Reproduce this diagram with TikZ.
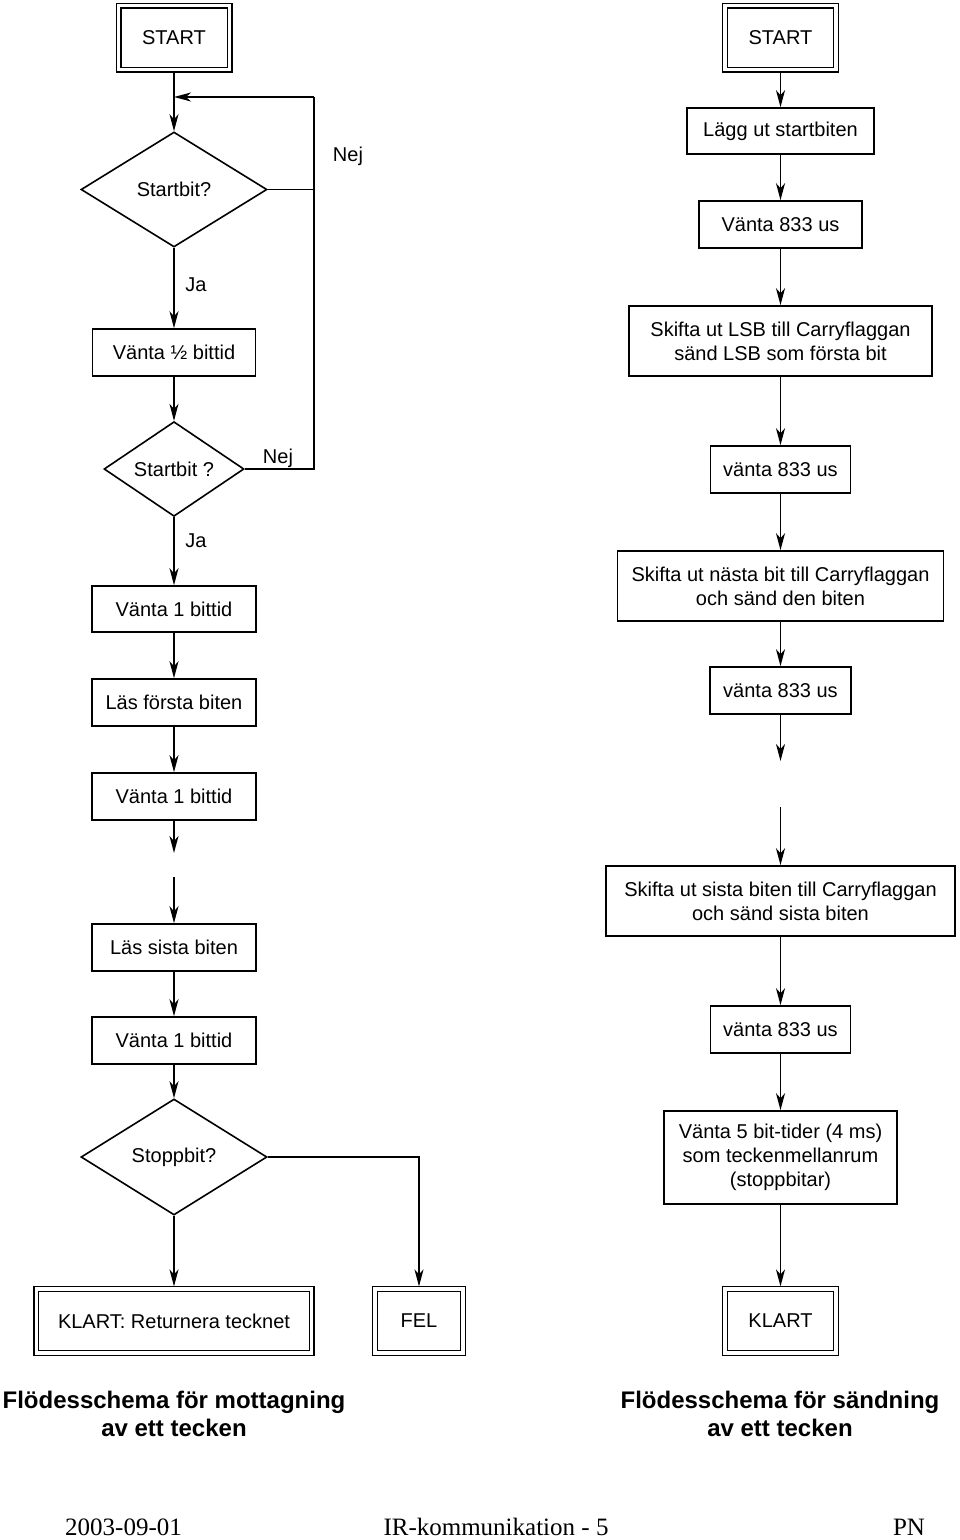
\documentclass[tikz,border=0pt]{standalone}
\usepackage{fontspec}
\setmainfont{Liberation Sans}
\newfontfamily\footserif{Liberation Serif}
\usetikzlibrary{arrows.meta,shapes.geometric}
\begin{document}
\begin{tikzpicture}[x=1pt,y=-1pt,
  every node/.style={font=\fontsize{20}{24}\selectfont},
  flowline/.style={line width=1.6pt},
  arr/.style={flowline,-{Stealth[length=17pt,width=9pt,inset=5pt]}},
  box/.style={draw,line width=1.6pt,inner sep=0pt,align=center,anchor=center},
  dbox/.style={draw,line width=1.4pt,double,double distance=3.2pt,inner sep=0pt,outer sep=2.6pt,anchor=center},
  dia/.style={draw,diamond,line width=1.6pt,inner sep=0pt,anchor=center},
  lbl/.style={inner sep=0pt,anchor=center},
  title/.style={font=\fontsize{24}{28}\selectfont\bfseries,align=center,inner sep=0pt},
  foot/.style={font=\fontsize{25}{28}\selectfont\footserif,inner sep=0pt,anchor=base}
]
\useasboundingbox (0,0) rectangle (960,1540);

% ---------- left column ----------
\node[dbox,minimum width=111pt,minimum height=64pt] (ls) at (174,37.5) {START};
\node[dia,minimum width=186pt,minimum height=115pt] (d1) at (174,189.5) {Startbit?};
\node[box,minimum width=163pt,minimum height=47pt] (l1) at (174,352.5) {Vänta ½ bittid};
\node[dia,minimum width=140pt,minimum height=70pt] (d2) at (174,469) {Startbit ?};
\node[box,minimum width=164pt,minimum height=46pt] (l2) at (174,609) {Vänta 1 bittid};
\node[box,minimum width=164pt,minimum height=47pt] (l3) at (174,702.5) {Läs första biten};
\node[box,minimum width=164pt,minimum height=47pt] (l4) at (174,796.5) {Vänta 1 bittid};
\node[box,minimum width=164pt,minimum height=47pt] (l5) at (174,947.5) {Läs sista biten};
\node[box,minimum width=164pt,minimum height=47pt] (l6) at (174,1040.5) {Vänta 1 bittid};
\node[dia,minimum width=186pt,minimum height=116pt] (d3) at (174,1157) {Stoppbit?};
\node[dbox,minimum width=275.5pt,minimum height=64pt] (lk) at (174,1321) {KLART: Returnera tecknet};
\node[dbox,minimum width=88pt,minimum height=64pt] (fel) at (419,1321) {FEL};

\coordinate (loopin) at (174,97);
\coordinate (looptop) at (314,97);
\coordinate (loopbot) at (314,469);
\coordinate (d1r) at (314,189.5);
\coordinate (fa) at (174,853);
\coordinate (fb) at (174,877);
\coordinate (felc) at (419,1157);

\draw[arr] (ls.south) -- (d1.north);
\draw[arr] (looptop) -- (loopin);
\draw[flowline] (d2.east) -- (loopbot) -- (looptop);
\draw[flowline] (d1.east) -- (d1r);
\draw[arr] (d1.south) -- (l1.north);
\draw[arr] (l1.south) -- (d2.north);
\draw[arr] (d2.south) -- (l2.north);
\draw[arr] (l2.south) -- (l3.north);
\draw[arr] (l3.south) -- (l4.north);
\draw[arr] (l4.south) -- (fa);
\draw[arr] (fb) -- (l5.north);
\draw[arr] (l5.south) -- (l6.north);
\draw[arr] (l6.south) -- (d3.north);
\draw[arr] (d3.south) -- (lk.north);
\draw[arr] (d3.east) -- (felc) -- (fel.north);

\node[lbl] (nej1) at (348,156) {Nej};
\node[lbl] (ja1) at (196,285) {Ja};
\node[lbl] (nej2) at (278,458) {Nej};
\node[lbl] (ja2) at (196,541) {Ja};

% ---------- right column ----------
\node[dbox,minimum width=111pt,minimum height=64pt] (rs) at (780.5,37.5) {START};
\node[box,minimum width=187pt,minimum height=46pt] (r1) at (780.5,131) {Lägg ut startbiten};
\node[box,minimum width=163pt,minimum height=47pt] (r2) at (780.5,224.5) {Vänta 833 us};
\node[box,minimum width=303pt,minimum height=70pt] (r3) at (780.5,341) {Skifta ut LSB till Carryflaggan\\sänd LSB som första bit};
\node[box,minimum width=140pt,minimum height=47pt] (r4) at (780.5,469.5) {vänta 833 us};
\node[box,minimum width=326pt,minimum height=70pt] (r5) at (780.5,586) {Skifta ut nästa bit till Carryflaggan\\och sänd den biten};
\node[box,minimum width=141pt,minimum height=47pt] (r6) at (780.5,690.5) {vänta 833 us};
\node[box,minimum width=349pt,minimum height=70pt] (r7) at (780.5,901) {Skifta ut sista biten till Carryflaggan\\och sänd sista biten};
\node[box,minimum width=140pt,minimum height=47pt] (r8) at (780.5,1029.5) {vänta 833 us};
\node[box,minimum width=233pt,minimum height=93pt] (r9) at (780.5,1157.5) {Vänta 5 bit-tider (4 ms)\\som teckenmellanrum\\(stoppbitar)};
\node[dbox,minimum width=111pt,minimum height=64pt] (rk) at (780.5,1321) {KLART};

\coordinate (ra) at (780.5,761);
\coordinate (rb) at (780.5,807);

\draw[arr] (rs.south) -- (r1.north);
\draw[arr] (r1.south) -- (r2.north);
\draw[arr] (r2.south) -- (r3.north);
\draw[arr] (r3.south) -- (r4.north);
\draw[arr] (r4.south) -- (r5.north);
\draw[arr] (r5.south) -- (r6.north);
\draw[arr] (r6.south) -- (ra);
\draw[arr] (rb) -- (r7.north);
\draw[arr] (r7.south) -- (r8.north);
\draw[arr] (r8.south) -- (r9.north);
\draw[arr] (r9.south) -- (rk.north);

% ---------- titles ----------
\node[title] (t1) at (174,1414) {Flödesschema för mottagning\\av ett tecken};
\node[title] (t2) at (780,1414) {Flödesschema för sändning\\av ett tecken};

% ---------- footer ----------
\node[foot] (f1) at (123.5,1535) {2003-09-01};
\node[foot] (f2) at (496,1535) {IR-kommunikation - 5};
\node[foot] (f3) at (909,1535) {PN};
\end{tikzpicture}
\end{document}
